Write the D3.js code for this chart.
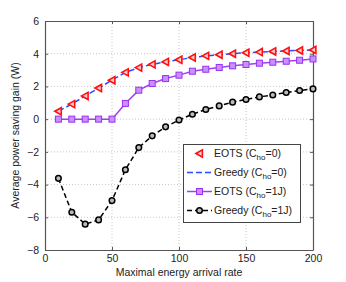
<!DOCTYPE html>
<html>
<head>
<meta charset="utf-8">
<script src="https://cdn.jsdelivr.net/npm/d3@7"></script>
<style>
  body { margin: 0; background: #fff; }
  svg { font-family: "Liberation Sans", Arial, sans-serif; }
</style>
</head>
<body>
<svg id="chart"></svg>
<script>
const rates = [10, 20, 30, 40, 50, 60, 70, 80, 90, 100, 110, 120, 130, 140, 150, 160, 170, 180, 190, 200];
const eotsC0 = [0.48, 0.92, 1.42, 1.9, 2.38, 2.86, 3.15, 3.35, 3.5, 3.63, 3.77, 3.87, 3.94, 4.0, 4.06, 4.1, 4.14, 4.17, 4.2, 4.23];
const greedyC0 = [0.48, 0.92, 1.42, 1.9, 2.38, 2.86, 3.15, 3.35, 3.5, 3.63, 3.77, 3.87, 3.94, 4.0, 4.06, 4.1, 4.14, 4.17, 4.2, 4.23];
const eotsC1 = [0, 0, 0, 0, 0, 0.96, 1.77, 2.18, 2.48, 2.69, 2.93, 3.05, 3.16, 3.26, 3.34, 3.42, 3.48, 3.54, 3.6, 3.68];
const greedyC1 = [-3.62, -5.69, -6.42, -6.16, -4.98, -3.09, -1.74, -1.02, -0.47, -0.05, 0.3, 0.59, 0.81, 1.04, 1.2, 1.36, 1.48, 1.63, 1.75, 1.85];
const xTicks = [0, 50, 100, 150, 200];
const yTicks = [-8, -6, -4, -2, 0, 2, 4, 6];

const width = 346, height = 282;
const margin = { top: 21, right: 33, bottom: 32, left: 45 };
const fs = 10.5;

const svg = d3.select("#chart").attr("width", width).attr("height", height);

const x = d3.scaleLinear().domain([0, 200]).range([margin.left, width - margin.right]);
const y = d3.scaleLinear().domain([-8, 6]).range([height - margin.bottom, margin.top]);

// grid
svg.append("g").selectAll("line").data(xTicks.slice(1, -1)).join("line")
  .attr("x1", d => x(d)).attr("x2", d => x(d))
  .attr("y1", y(-8)).attr("y2", y(6))
  .attr("stroke", "#c8c8c8").attr("stroke-dasharray", "1,2");
svg.append("g").selectAll("line").data(yTicks.slice(1, -1)).join("line")
  .attr("x1", x(0)).attr("x2", x(200))
  .attr("y1", d => y(d)).attr("y2", d => y(d))
  .attr("stroke", "#c8c8c8").attr("stroke-dasharray", "1,2");

// axes
const xAxis = svg.append("g").attr("transform", `translate(0,${y(-8)})`)
  .call(d3.axisBottom(x).tickValues(xTicks).tickSizeInner(-3).tickSizeOuter(0).tickPadding(5));
const yAxis = svg.append("g").attr("transform", `translate(${x(0)},0)`)
  .call(d3.axisLeft(y).tickValues(yTicks).tickSizeInner(-3).tickSizeOuter(0).tickPadding(6));
svg.append("g").attr("transform", `translate(${x(200)},0)`)
  .call(d3.axisRight(y).tickValues(yTicks).tickSizeInner(-3).tickSizeOuter(0).tickFormat(""));
svg.append("g").attr("transform", `translate(0,${y(6)})`)
  .call(d3.axisTop(x).tickValues(xTicks).tickSizeInner(-3).tickSizeOuter(0).tickFormat(""));
svg.selectAll(".domain").attr("stroke", "#555").attr("stroke-width", 1.2);
svg.selectAll(".tick line").attr("stroke", "#555");
svg.selectAll(".tick text").attr("font-size", fs).attr("fill", "#222")
  .attr("font-family", "Liberation Sans, Arial, sans-serif");
yAxis.selectAll(".tick text").text(d => d < 0 ? "\u2212" + Math.abs(d) : d);

// axis labels
svg.append("text").attr("x", x(100)).attr("y", 276)
  .attr("text-anchor", "middle").attr("font-size", fs).attr("fill", "#222")
  .text("Maximal energy arrival rate");
svg.append("text").attr("transform", `translate(19,${y(-1)}) rotate(-90)`)
  .attr("text-anchor", "middle").attr("font-size", fs).attr("fill", "#222")
  .text("Average power saving gain (W)");

const line = d3.line().x((d, i) => x(rates[i])).y(d => y(d));

// greedy C=1J
svg.append("path").datum(greedyC1).attr("d", line)
  .attr("fill", "none").attr("stroke", "#000").attr("stroke-width", 1.5).attr("stroke-dasharray", "5,3");
svg.append("g").selectAll("circle").data(greedyC1).join("circle")
  .attr("cx", (d, i) => x(rates[i])).attr("cy", d => y(d)).attr("r", 2.8)
  .attr("fill", "#bbb").attr("stroke", "#000").attr("stroke-width", 1.5);

// EOTS C=1J
svg.append("path").datum(eotsC1).attr("d", line)
  .attr("fill", "none").attr("stroke", "#a040f0").attr("stroke-width", 1.5);
svg.append("g").selectAll("rect").data(eotsC1).join("rect")
  .attr("x", (d, i) => x(rates[i]) - 3).attr("y", d => y(d) - 3)
  .attr("width", 6).attr("height", 6)
  .attr("fill", "#c890ff").attr("stroke", "#9a30f0").attr("stroke-width", 1);

// Greedy C=0
svg.append("path").datum(greedyC0).attr("d", line)
  .attr("fill", "none").attr("stroke", "#2a4cff").attr("stroke-width", 1.5).attr("stroke-dasharray", "6,3");

// EOTS C=0
const tri = (cx, cy, s) => `M${cx - s},${cy} L${cx + s * 0.8},${cy - s} L${cx + s * 0.8},${cy + s} Z`;
svg.append("g").selectAll("path").data(eotsC0).join("path")
  .attr("d", (d, i) => tri(x(rates[i]), y(d), 3.6))
  .attr("fill", "#ffd0d0").attr("stroke", "#ff1010").attr("stroke-width", 1.6);

// legend
const lg = svg.append("g");
lg.append("rect").attr("x", 183.5).attr("y", 144.5).attr("width", 117).attr("height", 78)
  .attr("fill", "#fff").attr("stroke", "#444").attr("stroke-width", 1);
const legendItems = [
  { name: "EOTS", sub: "ho", rest: "=0)", kind: "tri" },
  { name: "Greedy", sub: "ho", rest: "=0)", kind: "blue" },
  { name: "EOTS", sub: "ho", rest: "=1J)", kind: "sq" },
  { name: "Greedy", sub: "ho", rest: "=1J)", kind: "circ" }
];
const rowY = [153.5, 172.5, 191.5, 210.5];
legendItems.forEach((it, i) => {
  const ly = rowY[i];
  if (it.kind === "tri") {
    lg.append("path").attr("d", tri(199.5, ly, 3.6)).attr("fill", "#ffd0d0").attr("stroke", "#ff1010").attr("stroke-width", 1.6);
  } else if (it.kind === "blue") {
    lg.append("line").attr("x1", 187).attr("x2", 212).attr("y1", ly).attr("y2", ly)
      .attr("stroke", "#2a4cff").attr("stroke-width", 1.5).attr("stroke-dasharray", "6,3");
  } else if (it.kind === "sq") {
    lg.append("line").attr("x1", 187).attr("x2", 212).attr("y1", ly).attr("y2", ly)
      .attr("stroke", "#a040f0").attr("stroke-width", 1.5);
    lg.append("rect").attr("x", 196.5).attr("y", ly - 3).attr("width", 6).attr("height", 6)
      .attr("fill", "#c890ff").attr("stroke", "#9a30f0");
  } else {
    lg.append("line").attr("x1", 187).attr("x2", 212).attr("y1", ly).attr("y2", ly)
      .attr("stroke", "#000").attr("stroke-width", 1.5).attr("stroke-dasharray", "5,3");
    lg.append("circle").attr("cx", 199.5).attr("cy", ly).attr("r", 2.8)
      .attr("fill", "#bbb").attr("stroke", "#000").attr("stroke-width", 1.5);
  }
  const t = lg.append("text").attr("x", 214).attr("y", ly + 3.5).attr("font-size", fs).attr("fill", "#222");
  t.append("tspan").text(it.name + " (C");
  t.append("tspan").attr("font-size", 8).attr("dy", 3).text(it.sub);
  t.append("tspan").attr("dy", -3).text(it.rest);
});
</script>
</body>
</html>
